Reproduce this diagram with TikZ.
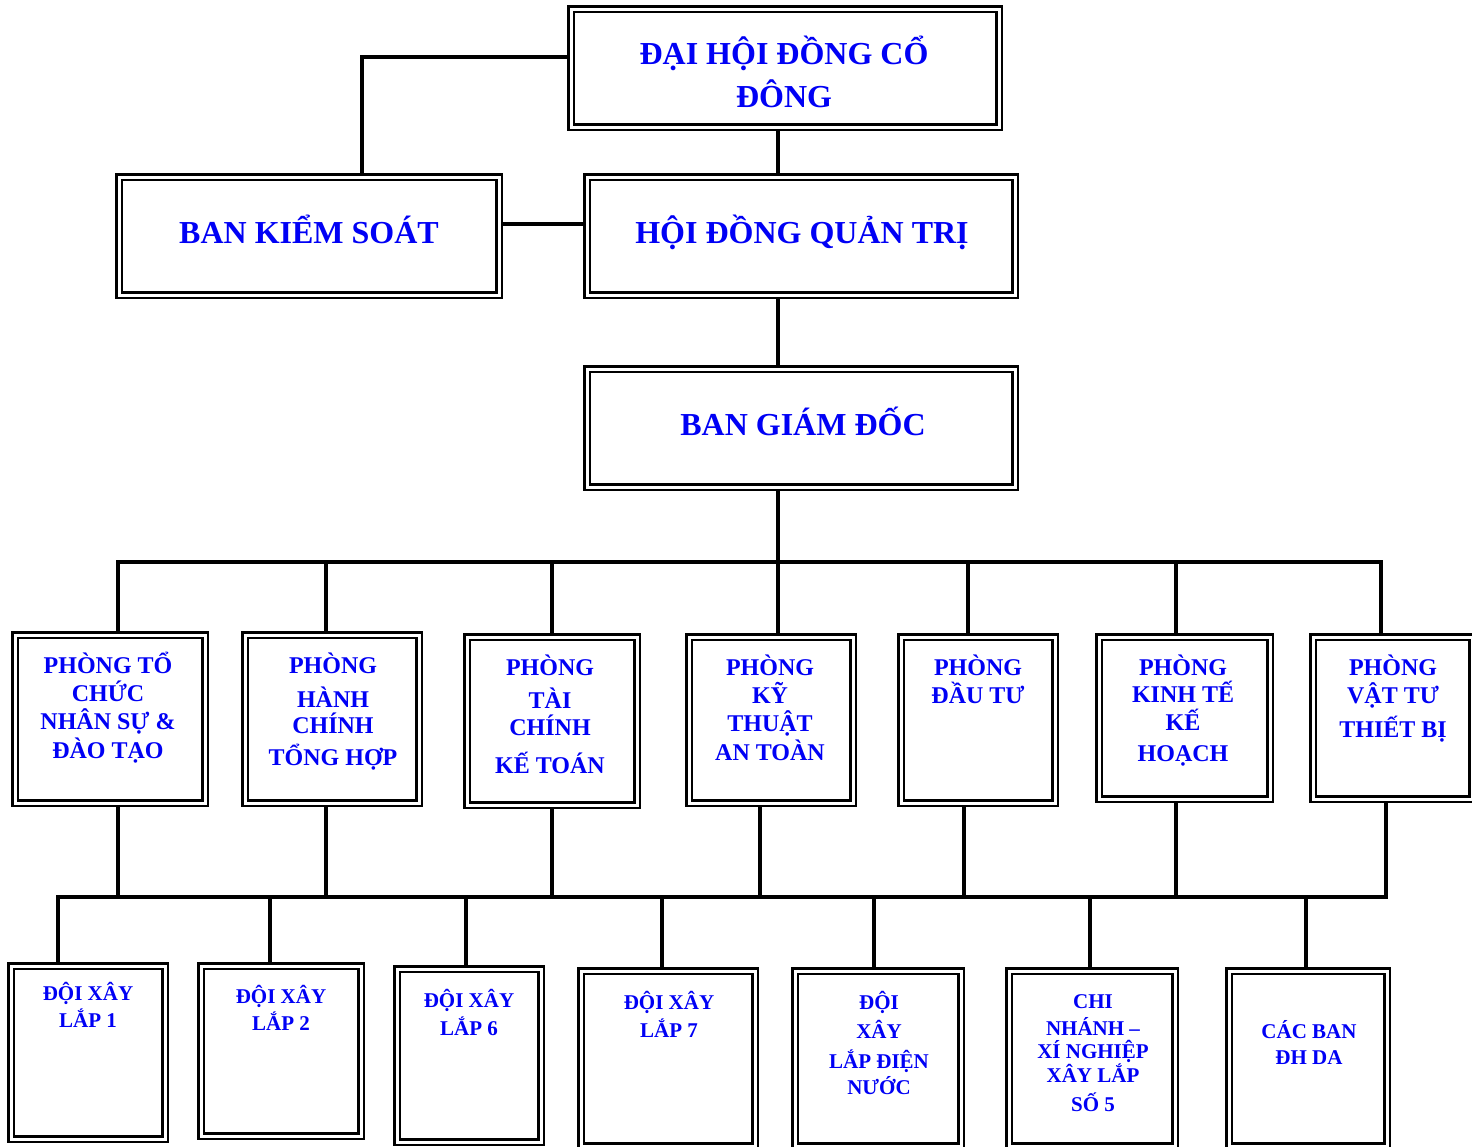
\documentclass[tikz,border=0pt]{standalone}
\usepackage{fontspec}
\setmainfont{Liberation Serif}
\usetikzlibrary{backgrounds}
\definecolor{txtblue}{RGB}{0,0,245}
\newcommand\mylines[4]{%
  \foreach \yy/\ltxt [count=\i] in {#4} {\node[lbl,#3] (#1-\i) at (#2,\yy) {\ltxt};}%
}
\begin{document}
\begin{tikzpicture}[x=1pt,y=-1pt,
  box/.style={rectangle, draw=black, line width=2.4pt, double=white, double distance=3pt, fill=white, inner sep=0pt, outer sep=0pt},
  conn/.style={line width=3.8pt, draw=black, line cap=rect},
  lbl/.style={anchor=base, inner sep=0pt, text=txtblue},
  bigtxt/.style={font=\fontsize{32}{38}\selectfont\bfseries},
  midtxt/.style={font=\fontsize{24}{28}\selectfont\bfseries},
  smalltxt/.style={font=\fontsize{21}{25}\selectfont\bfseries}
]
\useasboundingbox (0,0) rectangle (1472,1146);
% top boxes
\node[box, minimum width=428, minimum height=118] (dhd) at (785,68) {};
\node[box, minimum width=380, minimum height=118] (bks) at (309,236) {};
\node[box, minimum width=428, minimum height=118] (hdqt) at (801,236) {};
\node[box, minimum width=428, minimum height=118] (bgd) at (801,428) {};
% departments
\node[box, minimum width=190, minimum height=168] (d1) at (110,719) {};
\node[box, minimum width=174, minimum height=168] (d2) at (332,719) {};
\node[box, minimum width=170, minimum height=168] (d3) at (552,721) {};
\node[box, minimum width=164, minimum height=166] (d4) at (771,720) {};
\node[box, minimum width=154, minimum height=166] (d5) at (978,720) {};
\node[box, minimum width=171, minimum height=162] (d6) at (1184.5,718) {};
\node[box, minimum width=159, minimum height=162] (d7) at (1392.5,718) {};
% bottom units
\node[box, minimum width=154, minimum height=173] (b1) at (88,1052.5) {};
\node[box, minimum width=160, minimum height=170] (b2) at (281,1051) {};
\node[box, minimum width=144, minimum height=173] (b3) at (469,1055.5) {};
\node[box, minimum width=174, minimum height=175] (b4) at (668,1058.5) {};
\node[box, minimum width=166, minimum height=175] (b5) at (878,1058.5) {};
\node[box, minimum width=166, minimum height=175] (b6) at (1092,1058.5) {};
\node[box, minimum width=158, minimum height=175] (b7) at (1308,1058.5) {};
% labels
\mylines{tdhd}{784}{bigtxt}{64/ĐẠI HỘI ĐỒNG CỔ, 107/ĐÔNG}
\mylines{tbks}{309}{bigtxt}{243/BAN KIỂM SOÁT}
\mylines{thdqt}{802}{bigtxt}{243/HỘI ĐỒNG QUẢN TRỊ}
\mylines{tbgd}{803}{bigtxt}{435/BAN GIÁM ĐỐC}
\mylines{td1}{108}{midtxt}{673/PHÒNG TỔ, 701/CHỨC, 729/NHÂN SỰ \&, 758/ĐÀO TẠO}
\mylines{td2}{333}{midtxt}{673/PHÒNG, 707/HÀNH, 733/CHÍNH, 765/TỔNG HỢP}
\mylines{td3}{550}{midtxt}{675/PHÒNG, 708/TÀI, 735/CHÍNH, 773/KẾ TOÁN}
\mylines{td4}{770}{midtxt}{675/PHÒNG, 703/KỸ, 731/THUẬT, 760/AN TOÀN}
\mylines{td5}{978}{midtxt}{675/PHÒNG, 703/ĐẦU TƯ}
\mylines{td6}{1183}{midtxt}{675/PHÒNG, 702/KINH TẾ, 730/KẾ, 761/HOẠCH}
\mylines{td7}{1393}{midtxt}{675/PHÒNG, 703/VẬT TƯ, 737/THIẾT BỊ}
\mylines{tb1}{88}{smalltxt}{1000/ĐỘI XÂY, 1027/LẮP 1}
\mylines{tb2}{281}{smalltxt}{1003/ĐỘI XÂY, 1030/LẮP 2}
\mylines{tb3}{469}{smalltxt}{1007/ĐỘI XÂY, 1035/LẮP 6}
\mylines{tb4}{669}{smalltxt}{1009/ĐỘI XÂY, 1037/LẮP 7}
\mylines{tb5}{879}{smalltxt}{1009/ĐỘI, 1038/XÂY, 1068/LẮP ĐIỆN, 1094/NƯỚC}
\mylines{tb6}{1093}{smalltxt}{1008/CHI, 1035/NHÁNH –, 1058/XÍ NGHIỆP, 1082/XÂY LẮP, 1111/SỐ 5}
\mylines{tb7}{1309}{smalltxt}{1038/CÁC BAN, 1064/ĐH DA}
% connectors
\begin{scope}[on background layer]
\fill[white] (0,0) rectangle (1472,1146);
\coordinate (jA) at (362,57);
\coordinate (tr) at (778,0);
\coordinate (yk) at (0,224);
\draw[conn] (dhd.west |- jA) -| (bks.north -| jA);
\draw[conn] (dhd.south -| tr) -- (hdqt.north -| tr);
\draw[conn] (bks.east |- yk) -- (hdqt.west |- yk);
\draw[conn] (hdqt.south -| tr) -- (bgd.north -| tr);
\coordinate (busA) at (778,562);
\coordinate (busAL) at (118,562);
\coordinate (busAR) at (1381,562);
\draw[conn] (bgd.south -| tr) -- (busA);
\draw[conn] (busAL) -- (busAR);
\foreach \xx/\nn in {118/d1, 326/d2, 552/d3, 778/d4, 968/d5, 1176/d6, 1381/d7}
  {\coordinate (ta-\nn) at (\xx,562); \draw[conn] (ta-\nn) -- (\nn.north -| ta-\nn);}
\coordinate (busBL) at (58,897);
\coordinate (busBR) at (1386,897);
\draw[conn] (busBL) -- (busBR);
\foreach \xx/\nn in {118/d1, 326/d2, 552/d3, 760/d4, 964/d5, 1176/d6, 1386/d7}
  {\coordinate (tb-\nn) at (\xx,897); \draw[conn] (\nn.south -| tb-\nn) -- (tb-\nn);}
\foreach \xx/\nn in {58/b1, 270/b2, 466/b3, 662/b4, 874/b5, 1090/b6, 1306/b7}
  {\coordinate (tc-\nn) at (\xx,897); \draw[conn] (tc-\nn) -- (\nn.north -| tc-\nn);}
\end{scope}
\end{tikzpicture}
\end{document}
